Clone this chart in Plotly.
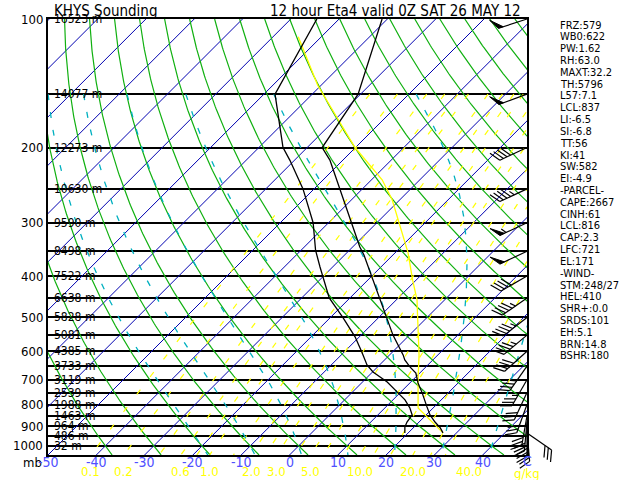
import numpy as np
import plotly.graph_objects as go

# ---------------- data ----------------
title_left = "KHYS Sounding"
title_right = "12 hour Eta4 valid 0Z SAT 26 MAY 12"

temp_p = [100, 150, 200, 214, 270, 342, 357, 402, 450, 501, 550, 612, 629, 653, 675, 712, 751, 810, 846, 879, 907, 932]
temp_c = [-71.1, -60.5, -56.9, -52.7, -40.7, -28.5, -26.0, -19.8, -13.8, -8.2, -3.4, 2.8, 4.2, 6.7, 9.2, 11.7, 14.6, 18.5, 20.8, 23.3, 25.6, 27.2]

dewp_p = [100, 150, 179, 200, 214, 250, 300, 348, 381, 402, 450, 501, 555, 603, 646, 671, 708, 747, 780, 815, 846, 879, 903, 932]
dewp_c = [-84.6, -77.7, -69.9, -65.0, -61.0, -52.3, -43.2, -37.0, -32.6, -29.9, -24.3, -17.3, -10.9, -6.3, -2.6, 0.1, 5.1, 9.2, 12.5, 15.2, 17.1, 17.5, 18.1, 19.3]

parcel_p = [110, 143, 200, 238, 265, 307, 353, 409, 455, 507, 612, 701, 815, 932]
parcel_c = [-84.8, -70.7, -50.1, -37.8, -31.6, -24.3, -17.3, -10.7, -5.7, -1.4, 6.1, 11.1, 16.9, 27.2]

height_p = [100, 150, 200, 250, 300, 350, 400, 450, 500, 550, 600, 650, 700, 750, 800, 850, 900, 950, 1000]
height_lbl = ["16523 m", "14077 m", "12273 m", "10630 m", "9590 m", "8498 m", "7522 m", "6638 m",
              "5828 m", "5081 m", "4385 m", "3733 m", "3119 m", "2539 m", "1988 m", "1463 m",
              "964 m", "486 m", "32 m"]

p_ticks = [100, 200, 300, 400, 500, 600, 700, 800, 900, 1000]
t_ticks = [-50, -40, -30, -20, -10, 0, 10, 20, 30, 40]
w_ticks = [0.1, 0.2, 0.6, 1.0, 2.0, 3.0, 5.0, 10.0, 20.0, 40.0]
w_lines = [0.1, 0.2, 0.4, 0.6, 0.8, 1.0, 1.5, 2.0, 2.5, 3.0, 4.0, 5.0, 6.0, 8.0, 10.0, 12.0, 15.0, 20.0, 25.0, 30.0, 40.0]
isotherms = list(range(-140, 50, 10))
dry_theta = list(range(-40, 180, 10))
moist_thw = [-20, -10, 0, 10, 20, 30, 40]

wind_p = [100, 150, 200, 250, 300, 350, 400, 450, 500, 550, 600, 650, 700, 750, 800, 850, 875, 900, 925, 932]
wind_dir = [252, 250, 245, 245, 245, 245, 240, 235, 232, 230, 228, 215, 210, 205, 200, 190, 185, 180, 175, 125]
wind_spd = [50, 50, 40, 45, 55, 50, 40, 45, 45, 45, 40, 35, 35, 30, 30, 30, 30, 30, 25, 30]

stats = ["FRZ:579", "WB0:622", "PW:1.62", "RH:63.0", "MAXT:32.2", "TH:5796", "L57:7.1", "LCL:837",
         "LI:-6.5", "SI:-6.8", "TT:56", "KI:41", "SW:582", "EI:-4.9", "-PARCEL-", "CAPE:2667",
         "CINH:61", "LCL:816", "CAP:2.3", "LFC:721", "EL:171", "-WIND-", "STM:248/27", "HEL:410",
         "SHR+:0.0", "SRDS:101", "EH:5.1", "BRN:14.8", "BSHR:180"]

# ---------------- geometry ----------------
W, H = 640, 480
L_PX, R_PX, T_PX, B_PX = 48, 527, 19, 455
P_TOP, P_BOT = 100.0, 1050.0
PPX = 4.83                       # pixels per deg C
XMIN = -50.0
XMAX = XMIN + (R_PX - L_PX) / PPX
PX_DEC = (B_PX - T_PX) / np.log10(P_BOT / P_TOP)   # pixels per decade of pressure
SKEW = PX_DEC / PPX                                   # deg C per decade (45 deg skew)

FONT = "Liberation Sans Narrow, DejaVu Sans Condensed, Arial Narrow, sans-serif"


def skx(t, p):
    return np.asarray(t, float) + SKEW * np.log10(P_BOT / np.asarray(p, float))


def es(tc):
    return 6.112 * np.exp(17.67 * tc / (tc + 243.5))


def moist_profile(thw, pmin, pmax):
    Rd, Cp, Lv, eps = 287.04, 1005.7, 2.501e6, 0.622

    def dtdp(p, T):
        e = es(T - 273.15)
        rs = eps * e / (p - e)
        return (Rd * T + Lv * rs) / (p * (Cp + Lv * Lv * rs * eps / (Rd * T * T)))

    out = {}
    for direction in (-1, 1):
        T = thw + 273.15
        p = 1000.0
        dp = 2.0 * direction
        while (direction < 0 and p > pmin - 0.5) or (direction > 0 and p < pmax + 0.5):
            out[round(p, 1)] = T
            k1 = dtdp(p, T)
            k2 = dtdp(p + dp / 2, T + dp / 2 * k1)
            k3 = dtdp(p + dp / 2, T + dp / 2 * k2)
            k4 = dtdp(p + dp, T + dp * k3)
            T += dp / 6 * (k1 + 2 * k2 + 2 * k3 + k4)
            p += dp
    ps = np.array(sorted(out.keys()))
    ts = np.array([out[k] for k in ps]) - 273.15
    return ps, ts


def td_from_w(w, p):
    e = w * p / (622.0 + w)
    a = np.log(e / 6.112)
    return 243.5 * a / (17.67 - a)


fig = go.Figure()


def add_family(xs_list, ps_list, color, width, dash=None):
    X, Y = [], []
    for xs, ps in zip(xs_list, ps_list):
        X += list(xs) + [None]
        Y += list(ps) + [None]
    fig.add_trace(go.Scatter(x=X, y=Y, mode="lines", hoverinfo="skip", showlegend=False,
                             line=dict(color=color, width=width, dash=dash)))


pfull = np.geomspace(P_TOP, P_BOT, 200)

# isotherms
add_family([skx([t, t], [P_BOT, P_TOP]) for t in isotherms], [[P_BOT, P_TOP]] * len(isotherms),
           "#0000b0", 1)

# dry adiabats
xs, ps = [], []
for th in dry_theta:
    T = (th + 273.15) * (pfull / 1000.0) ** 0.2857 - 273.15
    xs.append(skx(T, pfull))
    ps.append(pfull)
add_family(xs, ps, "#10b010", 1.2)

# mixing ratio lines
pmix = np.geomspace(150, P_BOT, 60)
xs, ps = [], []
for w in w_lines:
    xs.append(skx(td_from_w(w, pmix), pmix))
    ps.append(pmix)
add_family(xs, ps, "#ffff00", 1.2, "6px,16px")

# moist adiabats
xs, ps = [], []
for thw in moist_thw:
    pp_, tt = moist_profile(thw, 150, P_BOT)
    xs.append(skx(tt, pp_))
    ps.append(pp_)
add_family(xs, ps, "#00b0c0", 1.3, "6px,12px")

# parcel, temperature, dewpoint
fig.add_trace(go.Scatter(x=skx(parcel_c, parcel_p), y=parcel_p, mode="lines", showlegend=False,
                         hoverinfo="skip", line=dict(color="#ffff00", width=1.3)))
fig.add_trace(go.Scatter(x=skx(temp_c, temp_p), y=temp_p, mode="lines", showlegend=False,
                         hoverinfo="skip", line=dict(color="black", width=1.3)))
fig.add_trace(go.Scatter(x=skx(dewp_c, dewp_p), y=dewp_p, mode="lines", showlegend=False,
                         hoverinfo="skip", line=dict(color="black", width=1.3)))

# ---------------- annotations ----------------
ann = []


def px2paper(px, py):
    return (px - L_PX) / (R_PX - L_PX), (B_PX - py) / (B_PX - T_PX)


def yof(p):
    return T_PX + PX_DEC * np.log10(p / P_TOP)


ann.append(dict(text=title_left, x=px2paper(52, 0)[0], y=px2paper(0, 11)[1], xref="paper", yref="paper",
                xanchor="left", yanchor="middle", showarrow=False, font=dict(family=FONT, size=15, color="black")))
ann.append(dict(text=title_right, x=px2paper(523, 0)[0], y=px2paper(0, 11)[1], xref="paper", yref="paper",
                xanchor="right", yanchor="middle", showarrow=False, font=dict(family=FONT, size=15, color="black")))

for p, lbl in zip(height_p, height_lbl):
    ann.append(dict(text=lbl, x=px2paper(52, 0)[0], y=np.log10(p), xref="paper", yref="y",
                    xanchor="left", yanchor="middle", showarrow=False,
                    font=dict(family=FONT, size=12, color="black")))

for p in p_ticks:
    ann.append(dict(text=str(p), x=px2paper(45, 0)[0], y=np.log10(p), xref="paper", yref="y",
                    xanchor="right", yanchor="middle", showarrow=False,
                    font=dict(family=FONT, size=13, color="black")))

ann.append(dict(text="mb", x=px2paper(44, 0)[0], y=px2paper(0, 462)[1], xref="paper", yref="paper",
                xanchor="right", yanchor="middle", showarrow=False, font=dict(family=FONT, size=13, color="black")))

for t in t_ticks:
    ann.append(dict(text=str(t), x=t, y=px2paper(0, 462)[1], xref="x", yref="paper",
                    xanchor="center", yanchor="middle", showarrow=False,
                    font=dict(family=FONT, size=14, color="#5050ff")))
ann.append(dict(text="C", x=XMAX, y=px2paper(0, 461)[1], xref="x", yref="paper",
                xanchor="center", yanchor="middle", showarrow=False, font=dict(family=FONT, size=14, color="#5050ff")))

for w in w_ticks:
    ann.append(dict(text="%.1f" % w, x=float(skx(td_from_w(w, P_BOT), P_BOT)), y=px2paper(0, 472)[1],
                    xref="x", yref="paper", xanchor="center", yanchor="middle", showarrow=False,
                    font=dict(family=FONT, size=13, color="#ffff00")))
ann.append(dict(text="g/kg", x=XMAX, y=px2paper(0, 473)[1], xref="x", yref="paper",
                xanchor="center", yanchor="middle", showarrow=False, font=dict(family=FONT, size=13, color="#ffff00")))

for i, s in enumerate(stats):
    ann.append(dict(text=s, x=px2paper(558, 0)[0], y=px2paper(0, 25 + i * 11.82)[1], xref="paper", yref="paper",
                    xanchor="left", yanchor="middle", showarrow=False,
                    font=dict(family=FONT, size=11, color="black")))

# ---------------- wind barbs (paper-space shapes) ----------------
shapes = []


def rot(v, ang):
    a = np.radians(ang)
    return np.array([v[0] * np.cos(a) - v[1] * np.sin(a), v[0] * np.sin(a) + v[1] * np.cos(a)])


def pp(pt):
    x, y = px2paper(pt[0], pt[1])
    return "%.5f %.5f" % (x, y)


STAFF, BARB, STEP = 30.0, 12.0, 4.0
for p, d, s in zip(wind_p, wind_dir, wind_spd):
    st = np.array([R_PX, yof(p)])
    u = np.array([np.sin(np.radians(d)), -np.cos(np.radians(d))])
    b = rot(u, 60)
    end = st + STAFF * u
    shapes.append(dict(type="path", path="M %s L %s" % (pp(st), pp(end)), xref="paper", yref="paper",
                       line=dict(color="black", width=1.2)))
    spd = int(round(s / 5.0)) * 5
    pos = end.copy()
    while spd >= 50:
        base2 = pos - u * 5
        tip = pos + b * BARB
        shapes.append(dict(type="path", path="M %s L %s L %s Z" % (pp(pos), pp(tip), pp(base2)),
                           xref="paper", yref="paper", fillcolor="black", line=dict(color="black", width=1)))
        pos = pos - u * (STEP + 3)
        spd -= 50
    while spd >= 10:
        tip = pos + b * BARB
        shapes.append(dict(type="path", path="M %s L %s" % (pp(pos), pp(tip)), xref="paper", yref="paper",
                           line=dict(color="black", width=1.2)))
        pos = pos - u * STEP
        spd -= 10
    if spd >= 5:
        tip = pos + b * BARB / 2
        shapes.append(dict(type="path", path="M %s L %s" % (pp(pos), pp(tip)), xref="paper", yref="paper",
                           line=dict(color="black", width=1.2)))

fig.update_layout(
    width=W, height=H,
    margin=dict(l=L_PX, r=W - R_PX, t=T_PX, b=H - B_PX, pad=0),
    plot_bgcolor="white", paper_bgcolor="white",
    annotations=ann, shapes=shapes,
    xaxis=dict(range=[XMIN, XMAX], showgrid=False, zeroline=False, showticklabels=False, ticks="",
               showline=True, linecolor="black", linewidth=1.5, mirror=True, fixedrange=True),
    yaxis=dict(type="log", range=[np.log10(P_BOT), np.log10(P_TOP)], showticklabels=False, ticks="",
               tickvals=height_p, showgrid=True, gridcolor="black", gridwidth=1.6, zeroline=False,
               showline=True, linecolor="black", linewidth=1.5, mirror=True, fixedrange=True),
    showlegend=False,
)

fig.write_html("out.html", config={"displayModeBar": False},
               post_script="document.body.style.margin='0px';document.body.style.overflow='hidden';")
